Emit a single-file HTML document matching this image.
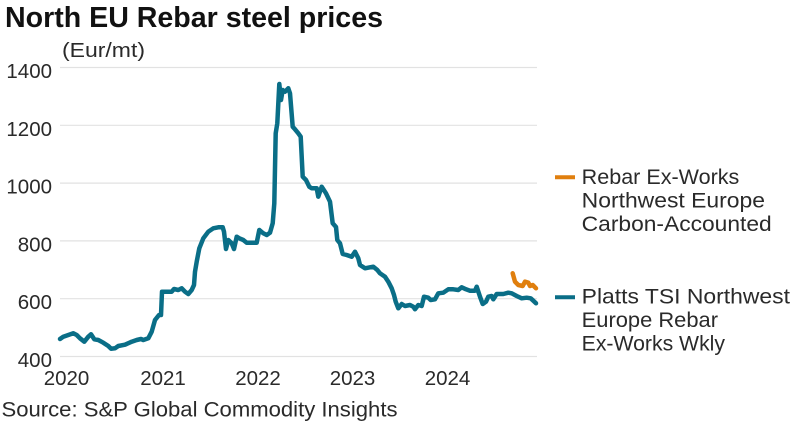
<!DOCTYPE html>
<html>
<head>
<meta charset="utf-8">
<style>
  html, body { margin: 0; padding: 0; background: #ffffff; }
  body { width: 800px; height: 422px; overflow: hidden; }
  svg { display: block; }
  text { font-family: "Liberation Sans", "DejaVu Sans", sans-serif; fill: #2a2a2a; }
</style>
</head>
<body>
<svg width="800" height="422" viewBox="0 0 800 422" xmlns="http://www.w3.org/2000/svg">
  <rect x="0" y="0" width="800" height="422" fill="#ffffff"/>

  <!-- Title -->
  <text x="5" y="27" font-size="28.5" font-weight="bold" fill="#111" style="fill:#111" textLength="378" lengthAdjust="spacingAndGlyphs">North EU Rebar steel prices</text>
  <text x="62" y="57" font-size="20" textLength="83" lengthAdjust="spacingAndGlyphs">(Eur/mt)</text>

  <!-- Gridlines -->
  <g stroke="#e2e2e2" stroke-width="1.2">
    <line x1="60" y1="67.5" x2="537" y2="67.5"/>
    <line x1="60" y1="125.3" x2="537" y2="125.3"/>
    <line x1="60" y1="183.1" x2="537" y2="183.1"/>
    <line x1="60" y1="240.9" x2="537" y2="240.9"/>
    <line x1="60" y1="298.7" x2="537" y2="298.7"/>
    <line x1="60" y1="356.5" x2="537" y2="356.5"/>
  </g>

  <!-- Y labels -->
  <g font-size="20.5" text-anchor="end">
    <text x="52" y="78">1400</text>
    <text x="52" y="135.8">1200</text>
    <text x="52" y="193.6">1000</text>
    <text x="52" y="251.4">800</text>
    <text x="52" y="309.2">600</text>
    <text x="52" y="367">400</text>
  </g>

  <!-- X labels -->
  <g font-size="20.5" text-anchor="middle">
    <text x="66.5" y="385">2020</text>
    <text x="163" y="385">2021</text>
    <text x="258" y="385">2022</text>
    <text x="352.5" y="385">2023</text>
    <text x="447.5" y="385">2024</text>
  </g>

  <!-- Teal series -->
  <polyline fill="none" stroke="#0a6e87" stroke-width="4.5" stroke-linejoin="round" stroke-linecap="round"
    points="60,339 63.3,336.7 68.3,335 73.3,333.3 76.7,335 80,338.3 84.3,341.7 88.3,336.7 91,334.3 94.3,339.3 98.3,340 103.3,342.7 108.3,346 111,348.7 115,348.3 118.3,346 125,344.7 131.7,341.7 136.7,340 141,339 143.3,340 148.3,338.3 151.7,331.7 155,320 159,315 161,315 162,291.7 171.7,291.7 174,289 178.3,290 181.7,288.3 185,291.7 188.3,294 191.7,290 194,285 195,271.7 196.7,261.7 199.3,248.3 203.3,238.3 208.3,231.7 213.3,228.3 218.3,227.3 222.7,227.3 224,231.7 226,249 228.3,240 231.7,243.3 234,249 236.7,236.7 239.3,238.3 243.3,240 246.7,242.7 256.7,242.7 259.3,230 263.3,233.3 266.7,235 270,232.7 272.7,223.3 274.3,203.3 275.7,133.3 277.3,123.3 279.3,84 281,100 282.7,90 285,91.7 288.3,88.3 290,93.3 292.7,126.7 295,129.3 298.3,133.3 300.7,136.7 302.7,176.7 306,180 309.3,186.7 311.7,188.3 316.7,188.3 318.3,196.7 321.7,186.7 326,193.3 330,201.7 332.7,223.3 336,227 337.3,240 340,243.3 342.7,254 346.7,255 351.7,256.7 355,251.7 358.3,258.3 360,265 365,268.3 370,267.3 373.3,266.7 377.3,270 380,273.3 385,276.7 388.3,281.7 391.7,288.3 394,295 395.7,301.7 398.3,308.3 401.7,304 405,306 410,305 413.3,306.7 415,309.3 418.3,305 421.7,306 424,296.7 428.3,297.7 430.7,300 435,299.3 438.3,293.3 443.3,292.7 448.3,289.3 453.3,289.3 458.3,290 461.7,287.3 466,289.3 470,290.7 475,290.7 476.7,286.7 480,296.7 482.7,304 486,301.7 488.3,296.7 491.7,296 493.3,299.3 496.7,294 503.3,294 508.3,292.7 511.7,293.3 516.7,296 521.7,298.3 526.7,297.7 530.7,298.3 533.3,300.7 536,303.3"/>

  <!-- Orange series -->
  <polyline fill="none" stroke="#e07f0e" stroke-width="4.5" stroke-linejoin="round" stroke-linecap="round"
    points="512.7,273.3 515,281.7 518.3,285 522.7,286 525,281.7 528.3,282.7 530,286 532.7,285 536,288.3"/>

  <!-- Legend -->
  <line x1="555" y1="177.3" x2="575" y2="177.3" stroke="#e07f0e" stroke-width="4"/>
  <g font-size="21">
    <text x="581.7" y="184" textLength="157.6" lengthAdjust="spacingAndGlyphs">Rebar Ex-Works</text>
    <text x="581.7" y="207.5" textLength="183.3" lengthAdjust="spacingAndGlyphs">Northwest Europe</text>
    <text x="581.7" y="231" textLength="190" lengthAdjust="spacingAndGlyphs">Carbon-Accounted</text>
  </g>
  <line x1="555" y1="297.3" x2="575" y2="297.3" stroke="#0a6e87" stroke-width="4"/>
  <g font-size="21">
    <text x="581.7" y="303.5" textLength="208.3" lengthAdjust="spacingAndGlyphs">Platts TSI Northwest</text>
    <text x="581.7" y="327" textLength="136.3" lengthAdjust="spacingAndGlyphs">Europe Rebar</text>
    <text x="581.7" y="350.5" textLength="143.3" lengthAdjust="spacingAndGlyphs">Ex-Works Wkly</text>
  </g>

  <!-- Source -->
  <text x="1.5" y="416.7" font-size="21" textLength="396" lengthAdjust="spacingAndGlyphs">Source: S&amp;P Global Commodity Insights</text>
</svg>
</body>
</html>
